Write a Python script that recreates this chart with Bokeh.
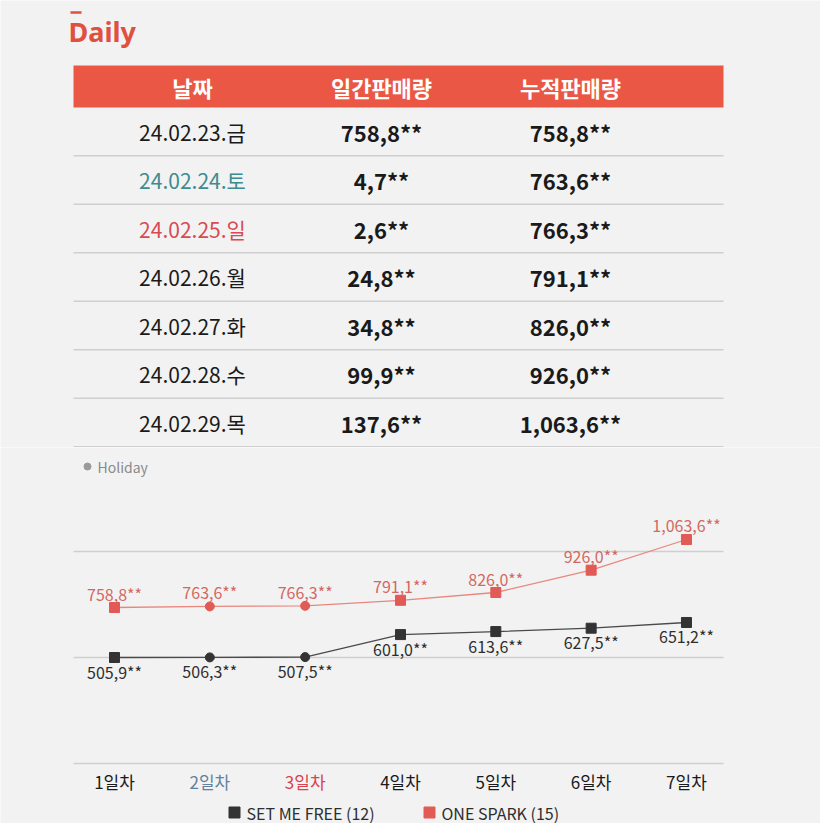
from bokeh.plotting import figure
from bokeh.models import ColumnDataSource, Range1d
from bokeh.layouts import column
from bokeh.embed import file_html
from bokeh.resources import INLINE
from bokeh.core.properties import value

# ---------------- data ----------------
logo_text = "Daily"
table_columns = ["날짜", "일간판매량", "누적판매량"]
dates = ["24.02.23.금", "24.02.24.토", "24.02.25.일", "24.02.26.월",
         "24.02.27.화", "24.02.28.수", "24.02.29.목"]
daily_sales = [758.8, 4.7, 2.6, 24.8, 34.8, 99.9, 137.6]
cumulative_sales = [758.8, 763.6, 766.3, 791.1, 826.0, 926.0, 1063.6]

day_labels = ["1일차", "2일차", "3일차", "4일차", "5일차", "6일차", "7일차"]
day_index = [1, 2, 3, 4, 5, 6, 7]
set_me_free = [505.9, 506.3, 507.5, 601.0, 613.6, 627.5, 651.2]
one_spark = [758.8, 763.6, 766.3, 791.1, 826.0, 926.0, 1063.6]
holiday_days = [2, 3]
holiday_note = "Holiday"
series_names = ["SET ME FREE (12)", "ONE SPARK (15)"]

# ---------------- styles ----------------
FONT = "Noto Sans CJK KR"
BG = "#f2f2f2"
HEAD_RED = "#ea5845"
LOGO_RED = "#e0503f"
DARK = "#1a1a1a"
SEP = "#cfcfcf"
TABLE_DAY_COLORS = {"토": "#3e8b8f", "일": "#d94a52"}
CHART_DAY_COLORS = {"토": "#62819c", "일": "#d9434c"}
RED_LINE = "#e8877e"
RED_MARK = "#e15a55"
RED_TEXT = "#d36862"
BLACK_LINE = "#4a4a4a"
BLACK_MARK = "#333333"
BLACK_TEXT = "#2e2e2e"


def fmt(v):
    return format(v, ",.1f").replace(".", ",") + "**"


W = 820
HT = 447
HC = 376

# ---------------- table figure ----------------
ROW0 = 131.0   # px of first row centre
ROW_H = 48.5
COL0 = 192.0
COL_W = 189.0


def tx(px):
    return (px - COL0) / COL_W


def ty(py):
    return (py - ROW0) / ROW_H


t = figure(width=W, height=HT, output_backend="svg", toolbar_location=None,
           x_range=Range1d(tx(0), tx(W)),
           y_range=Range1d(start=ty(HT), end=ty(0)),
           min_border=0, background_fill_color=BG, border_fill_color=BG,
           outline_line_color=None)
t.axis.visible = False
t.grid.visible = False

# logo
t.segment(x0=[tx(70)], x1=[tx(81)], y0=[ty(12)], y1=[ty(12)],
          line_color=LOGO_RED, line_width=2.5)
t.text(x=[tx(68)], y=[ty(31)], text=[logo_text], text_font=value("Noto Sans"),
       text_font_style="bold", text_font_size="27px", text_color=LOGO_RED,
       text_align="left", text_baseline="middle")

# header band
t.quad(left=[tx(73)], right=[tx(723)], top=[ty(65)], bottom=[ty(107)],
       fill_color=HEAD_RED, line_color=None)
t.text(x=[0, 1, 2], y=[ty(86)] * 3, text=table_columns,
       text_font=value(FONT), text_font_style="bold", text_font_size="22px",
       text_color="white", text_align="center", text_baseline="middle")

rows = list(range(len(dates)))
t.segment(x0=[tx(73)] * len(rows), x1=[tx(723)] * len(rows),
          y0=[r + 0.5 for r in rows], y1=[r + 0.5 for r in rows],
          line_color=SEP, line_width=1.5)

date_src = ColumnDataSource(dict(
    x=[0] * len(rows), y=rows, text=dates,
    color=[TABLE_DAY_COLORS.get(d[-1], DARK) for d in dates]))
t.text(x="x", y="y", text="text", text_color="color", source=date_src,
       text_font=value(FONT), text_font_size="21px",
       text_align="center", text_baseline="middle")

t.text(x=[1] * len(rows), y=rows, text=[fmt(v) for v in daily_sales],
       text_font=value(FONT), text_font_style="bold", text_font_size="22px",
       text_color=DARK, text_align="center", text_baseline="middle")
t.text(x=[2] * len(rows), y=rows, text=[fmt(v) for v in cumulative_sales],
       text_font=value(FONT), text_font_style="bold", text_font_size="22px",
       text_color=DARK, text_align="center", text_baseline="middle")

# ---------------- chart figure ----------------
TOP_C = HT            # page y of chart top
BOT_C = HT + HC       # page y of chart bottom
DAY_PX0 = 114.0       # page x of day 1
DAY_PX = 95.33        # px per day
BLK_REF, BLK_PY, BLK_SCALE = 505.9, 657.0, 0.2409
RED_REF, RED_PY, RED_SCALE = 758.8, 607.0, 0.2231


def ly(py):
    return BOT_C - py


x0 = 1 - DAY_PX0 / DAY_PX
b0 = BLK_REF - (BOT_C - BLK_PY) / BLK_SCALE
r0 = RED_REF - (BOT_C - RED_PY) / RED_SCALE

c = figure(width=W, height=HC, output_backend="svg", toolbar_location=None,
           x_range=Range1d(x0, x0 + W / DAY_PX),
           y_range=Range1d(b0, b0 + HC / BLK_SCALE),
           min_border=0, background_fill_color=BG, border_fill_color=BG,
           outline_line_color=None)
c.extra_y_ranges = {"red": Range1d(r0, r0 + HC / RED_SCALE),
                    "lay": Range1d(0, HC)}
c.extra_x_ranges = {"lx": Range1d(0, W)}
c.axis.visible = False
c.grid.visible = False

# guide lines
for gy in (551, 657, 763):
    c.segment(x0=[73], x1=[723], y0=[ly(gy)], y1=[ly(gy)],
              x_range_name="lx", y_range_name="lay",
              line_color=SEP, line_width=1.5)

# holiday note
c.scatter(x=[87], y=[ly(466)], marker="circle", size=7, color="#9a9a9a",
          x_range_name="lx", y_range_name="lay")
c.text(x=[97], y=[ly(466)], text=[holiday_note], text_font=value(FONT),
       text_font_size="14px", text_color="#8a8a8a", text_align="left",
       text_baseline="middle", x_range_name="lx", y_range_name="lay")

is_hol = [d in holiday_days for d in day_index]

# SET ME FREE (dark) on default range
c.line(day_index, set_me_free, line_color=BLACK_LINE, line_width=1.3)
c.scatter([d for d, h in zip(day_index, is_hol) if not h],
          [v for v, h in zip(set_me_free, is_hol) if not h],
          marker="square", size=10, color=BLACK_MARK)
c.scatter([d for d, h in zip(day_index, is_hol) if h],
          [v for v, h in zip(set_me_free, is_hol) if h],
          marker="circle", size=9, color=BLACK_MARK)
c.text(day_index, set_me_free, text=[fmt(v) for v in set_me_free],
       y_offset=14, text_font=value(FONT), text_font_size="16px",
       text_color=BLACK_TEXT, text_align="center", text_baseline="middle")

# ONE SPARK (red) on its own range
c.line(day_index, one_spark, line_color=RED_LINE, line_width=1.3,
       y_range_name="red")
c.scatter([d for d, h in zip(day_index, is_hol) if not h],
          [v for v, h in zip(one_spark, is_hol) if not h],
          marker="square", size=10, color=RED_MARK, y_range_name="red")
c.scatter([d for d, h in zip(day_index, is_hol) if h],
          [v for v, h in zip(one_spark, is_hol) if h],
          marker="circle", size=9, color=RED_MARK, y_range_name="red")
c.text(day_index, one_spark, text=[fmt(v) for v in one_spark],
       y_offset=-14, text_font=value(FONT), text_font_size="16px",
       text_color=RED_TEXT, text_align="center", text_baseline="middle",
       y_range_name="red")

# x labels
xl_src = ColumnDataSource(dict(
    x=day_index, y=[ly(781)] * len(day_index), text=day_labels,
    color=[CHART_DAY_COLORS.get(dates[i][-1], DARK) for i in range(len(day_labels))]))
c.text(x="x", y="y", text="text", text_color="color", source=xl_src,
       text_font=value(FONT), text_font_size="17px",
       text_align="center", text_baseline="middle", y_range_name="lay")

# legend at the very bottom
c.scatter(x=[234, 429], y=[ly(812)] * 2, marker="square", size=11,
          color=[BLACK_MARK, RED_MARK], x_range_name="lx", y_range_name="lay")
c.text(x=[246, 441], y=[ly(812)] * 2, text=series_names,
       text_font=value(FONT), text_font_size="16px", text_color=BLACK_TEXT,
       text_align="left", text_baseline="middle",
       x_range_name="lx", y_range_name="lay")

page = column(t, c, spacing=0)
open("out.html", "w").write(file_html(page, INLINE))
